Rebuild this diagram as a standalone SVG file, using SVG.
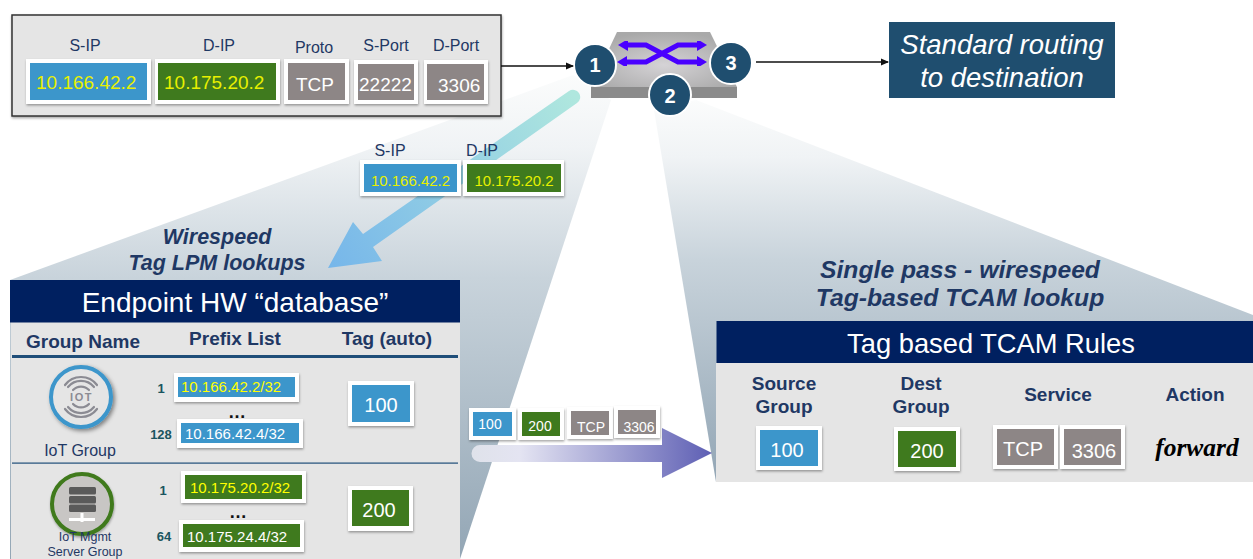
<svg xmlns="http://www.w3.org/2000/svg" width="1253" height="559" viewBox="0 0 1253 559">
<style>
text{font-family:"Liberation Sans",Arial,sans-serif}
.lab{fill:#1f3864;font-size:16px;text-anchor:middle}
.hd{fill:#1f3864;font-size:19px;font-weight:700;text-anchor:middle}
.ttl{fill:#1f3864;font-weight:700;font-style:italic;text-anchor:middle}
.frame{fill:#fff;filter:url(#sh)}
.blue{fill:#3c96cb}.green{fill:#3f7a1e}.gray{fill:#8d8686}
.y{fill:#e8f000;font-size:19px}
.w{fill:#fff;font-size:19px}
.m{text-anchor:middle}
.num{fill:#1a5560;font-size:13px;font-weight:700;text-anchor:middle}
.bar{fill:#002060}
.body{fill:#e5e5e5}
.badge{fill:#1f4e6f;stroke:#fff;stroke-width:2}
.badgeT{fill:#fff;font-size:20px;font-weight:700;text-anchor:middle}
.wave{fill:none;stroke:#8b8b93;stroke-width:2.2;stroke-linecap:round}
.srv{fill:#5a5a5a}
.xarrow{fill:none;stroke:#4a00ff;stroke-width:5;filter:url(#gl)}
.conn{fill:none;stroke:#111;stroke-width:1.5}
</style>
<defs>
<filter id="sh" x="-10%" y="-10%" width="125%" height="130%"><feDropShadow dx="0.5" dy="1.5" stdDeviation="1.2" flood-color="#000" flood-opacity=".35"/></filter>
<filter id="sh2" x="-10%" y="-10%" width="130%" height="130%"><feDropShadow dx="2" dy="2" stdDeviation="2" flood-color="#000" flood-opacity=".45"/></filter>
<filter id="gl" x="-10%" y="-20%" width="120%" height="140%"><feGaussianBlur stdDeviation="0.7"/></filter>
<linearGradient id="cone" x1="0" y1="0" x2="0" y2="1"><stop offset="0" stop-color="#fbfcfc"/><stop offset=".15" stop-color="#f0f3f5"/><stop offset=".42" stop-color="#c8d3db"/><stop offset="1" stop-color="#93a6b5"/></linearGradient>
<linearGradient id="fat" gradientUnits="userSpaceOnUse" x1="575" y1="97" x2="328" y2="268"><stop offset="0" stop-color="#afe7de"/><stop offset="1" stop-color="#76b6ea"/></linearGradient>
<linearGradient id="pur" gradientUnits="userSpaceOnUse" x1="472" y1="0" x2="712" y2="0"><stop offset="0" stop-color="#dfe2ea"/><stop offset=".2" stop-color="#e4e4f2"/><stop offset="1" stop-color="#5e5fb4"/></linearGradient>
<radialGradient id="swt" cx=".5" cy=".6" r=".6"><stop offset="0" stop-color="#d5d3d6"/><stop offset="1" stop-color="#a9a9a9"/></radialGradient>
<marker id="ah" markerWidth="8" markerHeight="8" refX="7" refY="4" orient="auto" markerUnits="userSpaceOnUse"><path d="M0,0.5L8,4L0,7.5z" fill="#111"/></marker>
<marker id="xa" markerWidth="11" markerHeight="12" refX="5" refY="6" orient="auto-start-reverse" markerUnits="userSpaceOnUse"><path d="M0,0L10,6L0,12z" fill="#4a00ff"/></marker>
</defs>

<g id="cones">
<polygon points="573,75 611,100 460,559 10,559 10,280" fill="url(#cone)"/>
<polygon points="654,110 696,100 1253,315 1253,482 716,482" fill="url(#cone)"/>
</g>

<g id="packet">
<rect x="12" y="15" width="489" height="101" fill="#e5e5e5" stroke="#333" stroke-width="1.5" filter="url(#sh)"/>
<text class="lab" x="85" y="51">S-IP</text><text class="lab" x="219" y="51">D-IP</text><text class="lab" x="314" y="53">Proto</text><text class="lab" x="386" y="51">S-Port</text><text class="lab" x="456" y="51">D-Port</text>
<rect class="frame" x="26" y="59" width="125" height="45"/><rect class="blue" x="30" y="63" width="117" height="37"/><text class="y" x="36" y="89">10.166.42.2</text>
<rect class="frame" x="155" y="59" width="125" height="45"/><rect class="green" x="158" y="63" width="118" height="37"/><text class="y" x="164" y="89">10.175.20.2</text>
<rect class="frame" x="284" y="59" width="65" height="45"/><rect class="gray" x="288" y="63" width="57" height="37"/><text class="w" x="296" y="91">TCP</text>
<rect class="frame" x="354" y="60" width="64" height="44"/><rect class="gray" x="358" y="64" width="56" height="36"/><text class="w" x="359" y="91">22222</text>
<rect class="frame" x="424" y="60" width="64" height="44"/><rect class="gray" x="427" y="64" width="57" height="36"/><text class="w" x="438" y="92">3306</text>
</g>

<g id="switch">
<polygon points="617,32 710,32 737,87 591,87" fill="url(#swt)"/>
<rect x="591" y="87" width="146" height="11" fill="#8b8b8b"/>
<path class="xarrow" d="M623,45H646L678,62H702" marker-start="url(#xa)" marker-end="url(#xa)"/>
<path class="xarrow" d="M622,62H646L678,45H702" marker-start="url(#xa)" marker-end="url(#xa)"/>
</g>
<g id="badge1"><circle class="badge" cx="595" cy="65" r="21"/><text class="badgeT" x="595" y="72">1</text></g>
<g id="badge2"><circle class="badge" cx="670" cy="95" r="21"/><text class="badgeT" x="670" y="103">2</text></g>
<g id="badge3"><circle class="badge" cx="731" cy="63" r="21"/><text class="badgeT" x="731" y="70">3</text></g>

<g id="routing">
<rect x="889" y="22" width="226" height="76" fill="#1f4e6f"/>
<text fill="#fff" font-size="27.500" font-style="italic" text-anchor="middle" x="1002" y="54">Standard routing</text>
<text fill="#fff" font-size="27.500" font-style="italic" text-anchor="middle" x="1002" y="87">to destination</text>
</g>

<g id="connectors">
<path class="conn" d="M501,66H573" marker-end="url(#ah)"/>
<path class="conn" d="M756,62H888" marker-end="url(#ah)"/>
<path d="M569,91A7,7 0 0 1 577,103L373,247L382,261L328,268L353,222L363,234Z" fill="url(#fat)"/>
<path d="M480,445H662V428L712,453L662,478V462H480A8.500,8.500 0 0 1 480,445Z" fill="url(#pur)"/>
</g>

<g id="extract">
<text class="lab" x="390" y="156">S-IP</text><text class="lab" x="482" y="156">D-IP</text>
<rect class="frame" x="360" y="160" width="101" height="36"/><rect class="blue" x="364" y="164" width="93" height="28"/><text class="m" fill="#e8f000" font-size="15" x="410.500" y="186">10.166.42.2</text>
<rect class="frame" x="463" y="160" width="101" height="36"/><rect class="green" x="467" y="164" width="94" height="28"/><text class="m" fill="#e8f000" font-size="15" x="514" y="186">10.175.20.2</text>
</g>

<g id="lpm-title">
<text class="ttl" font-size="21.500" x="217" y="244">Wirespeed</text>
<text class="ttl" font-size="21.500" x="217" y="270">Tag LPM lookups</text>
</g>

<g id="endpoint-db">
<rect class="body" x="11" y="322" width="449" height="237"/>
<rect class="bar" x="10" y="280" width="450" height="42.500"/>
<text fill="#fff" font-size="28" text-anchor="middle" x="235" y="312">Endpoint HW “database”</text>
<text class="hd" x="83" y="348">Group Name</text><text class="hd" x="235" y="345">Prefix List</text><text class="hd" x="387" y="345">Tag (auto)</text>
<rect x="12" y="355" width="446" height="3" fill="#1f4e79"/>
<rect x="12" y="462.500" width="446" height="1.200" fill="#1f4e79"/>
</g>

<g id="iot-group">
<circle cx="81" cy="397" r="30" fill="#e5e5e5" stroke="#3c96cb" stroke-width="4" filter="url(#sh2)"/>
<path class="wave" d="M65,385A20,20 0 0 1 97,385M68,387A17,17 0 0 1 94,387M73,390A11,11 0 0 1 89,390M65,409A20,20 0 0 0 97,409M68,407A17,17 0 0 0 94,407M73,404A11,11 0 0 0 89,404"/>
<text x="81.500" y="401" fill="#8b8b93" font-size="11" font-weight="700" text-anchor="middle" letter-spacing="1.500">IOT</text>
<text class="lab" x="80" y="456">IoT Group</text>
</g>
<g id="iot-prefix">
<text class="num" x="161" y="393">1</text>
<rect class="frame" x="174" y="373" width="125" height="29"/><rect class="blue" x="178" y="377" width="117" height="20"/><text fill="#ffff00" font-size="15" x="181" y="392">10.166.42.2/32</text>
<text fill="#111" font-size="18" font-weight="700" text-anchor="middle" x="237" y="418">…</text>
<text class="num" x="161" y="439">128</text>
<rect class="frame" x="177" y="419" width="126" height="29"/><rect class="blue" x="181" y="423" width="118" height="20"/><text fill="#fff" font-size="15" x="185" y="439">10.166.42.4/32</text>
</g>
<g id="tag-100">
<rect class="frame" x="348" y="381" width="66" height="45"/><rect class="blue" x="352" y="385" width="58" height="37"/><text class="w m" x="381" y="412" style="font-size:20px">100</text>
</g>
<g id="mgmt-group">
<circle cx="82" cy="504" r="30" fill="#c8c6c4" stroke="#3f7a1e" stroke-width="4" filter="url(#sh)"/>
<rect class="srv" x="69" y="487" width="27" height="7.500" rx="1.500"/><rect class="srv" x="69" y="496" width="27" height="7.500" rx="1.500"/><rect class="srv" x="69" y="504.500" width="27" height="7.500" rx="1.500"/>
<path d="M69,519.500H95M82,513V522" stroke="#fff" stroke-width="3" fill="none"/>
<text class="m" fill="#1f3864" font-size="12.500" x="85" y="541">IoT Mgmt</text>
<text class="m" fill="#1f3864" font-size="12.500" x="85" y="555.500">Server Group</text>
</g>
<g id="mgmt-prefix">
<text class="num" x="163" y="495">1</text>
<rect class="frame" x="181" y="471" width="125" height="32"/><rect class="green" x="185" y="475" width="117" height="24"/><text fill="#ffff00" font-size="15" x="190" y="493">10.175.20.2/32</text>
<text fill="#111" font-size="18" font-weight="700" text-anchor="middle" x="238" y="518">…</text>
<text class="num" x="164" y="541">64</text>
<rect class="frame" x="179" y="520" width="125" height="32"/><rect class="green" x="183" y="524" width="117" height="23"/><text fill="#fff" font-size="15" x="187" y="542">10.175.24.4/32</text>
</g>
<g id="tag-200">
<rect class="frame" x="348" y="486" width="65" height="45"/><rect class="green" x="352" y="490" width="57" height="36"/><text class="w m" x="379" y="517" style="font-size:20px">200</text>
</g>

<g id="tags">
<rect class="frame" x="469" y="408" width="47" height="32"/><rect class="blue" x="473" y="412" width="39" height="24"/><text class="m" fill="#fff" font-size="14" x="490" y="429">100</text>
<rect class="frame" x="518" y="408" width="46" height="32"/><rect class="green" x="522" y="412" width="38" height="24"/><text class="m" fill="#fff" font-size="14" x="540" y="431">200</text>
<rect class="frame" x="567" y="407" width="46" height="32"/><rect class="gray" x="571" y="411" width="38" height="24"/><text class="m" fill="#fff" font-size="14" x="591" y="432">TCP</text>
<rect class="frame" x="614" y="406" width="46" height="32"/><rect class="gray" x="618" y="410" width="38" height="24"/><text class="m" fill="#fff" font-size="14" x="639" y="432">3306</text>
</g>

<g id="tcam-title">
<text class="ttl" font-size="24.700" x="960" y="278">Single pass - wirespeed</text>
<text class="ttl" font-size="24.700" x="960" y="306">Tag-based TCAM lookup</text>
</g>
<g id="tcam-rules">
<rect class="body" x="716" y="363" width="537" height="119"/>
<rect class="bar" x="716.500" y="321" width="536.500" height="42"/>
<text fill="#fff" font-size="27.300" text-anchor="middle" x="991" y="353">Tag based TCAM Rules</text>
<text class="hd" x="784" y="390">Source</text><text class="hd" x="784" y="413">Group</text>
<text class="hd" x="921" y="390">Dest</text><text class="hd" x="921" y="413">Group</text>
<text class="hd" x="1058" y="401">Service</text><text class="hd" x="1195" y="401">Action</text>
<rect class="frame" x="756" y="426" width="66" height="44"/><rect class="blue" x="760" y="430" width="58" height="36"/><text class="w m" x="787" y="457" style="font-size:20px">100</text>
<rect class="frame" x="894" y="427" width="66" height="44"/><rect class="green" x="898" y="431" width="58" height="36"/><text class="w m" x="927" y="458" style="font-size:20px">200</text>
<rect class="frame" x="993" y="425" width="65" height="44"/><rect class="gray" x="997" y="429" width="57" height="36"/><text class="w m" x="1023" y="456" style="font-size:20px">TCP</text>
<rect class="frame" x="1060" y="425" width="65" height="44"/><rect class="gray" x="1064" y="429" width="57" height="36"/><text class="w m" x="1094" y="458" style="font-size:20px">3306</text>
<text x="1197" y="456" font-size="25.500" font-weight="700" font-style="italic" text-anchor="middle" fill="#000" style="font-family:'Liberation Serif',serif">forward</text>
</g>
</svg>
